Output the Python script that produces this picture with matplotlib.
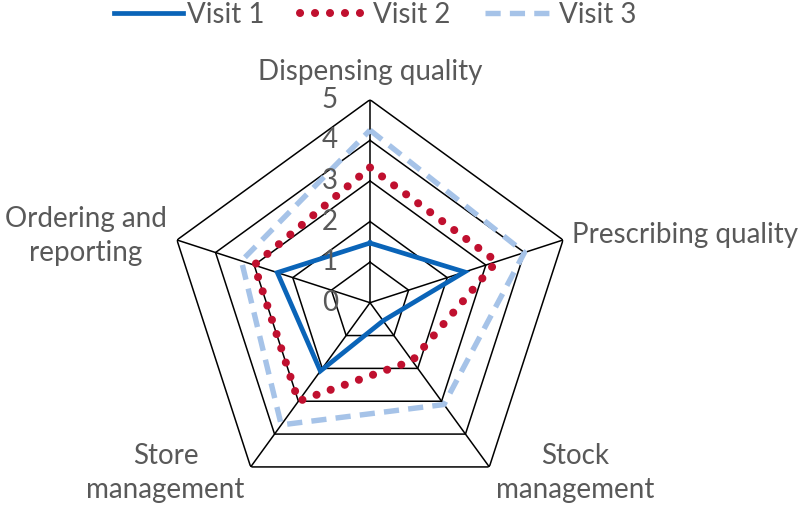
import numpy as np
import matplotlib
matplotlib.use("Agg")
import matplotlib.pyplot as plt

categories = ["Dispensing quality", "Prescribing quality", "Stock\nmanagement",
              "Store\nmanagement", "Ordering and\nreporting"]
visit1 = [1.47, 2.45, 0.55, 2.08, 2.40]
visit2 = [3.33, 3.28, 1.77, 3.00, 3.00]
visit3 = [4.25, 4.00, 3.10, 3.72, 3.33]
series_names = ["Visit 1", "Visit 2", "Visit 3"]
ring_levels = [0, 1, 2, 3, 4, 5]

plt.rcParams['font.family'] = ['Lato', 'DejaVu Sans']
TXT = '#595959'
FS = 20

W, H = 800, 507
fig = plt.figure(figsize=(W / 100, H / 100), dpi=100)
cx, cy, R = 370, 507 - 302.7, 203
ax = fig.add_axes([(cx - R) / W, (cy - R) / H, 2 * R / W, 2 * R / H], projection='polar')
ax.set_theta_offset(np.pi / 2)
ax.set_theta_direction(-1)
ax.set_ylim(0, 5)
ax.set_axis_off()

n = len(categories)
angles = np.linspace(0, 2 * np.pi, n, endpoint=False)
closed = np.concatenate([angles, angles[:1]])

# grid pentagons and spokes
for r in ring_levels[1:]:
    ax.plot(closed, [r] * (n + 1), color='black', lw=1.1, zorder=1)
for a in angles:
    ax.plot([a, a], [0, 5], color='black', lw=1.1, zorder=1)

def close(v):
    return list(v) + [v[0]]

l1, = ax.plot(closed, close(visit1), color='#0A64B8', lw=3.4, solid_joinstyle='miter',
              label=series_names[0], zorder=3)
l2, = ax.plot(closed, close(visit2), color='#C0102F', lw=5.8, linestyle=(0, (0.01, 1.85)),
              dash_capstyle='round', label=series_names[1], zorder=3)
l3, = ax.plot(closed, close(visit3), color='#A6C3E8', lw=3.9, linestyle=(0, (2.8, 1.7)),
              label=series_names[2], zorder=2)

# ring labels
for r in ring_levels:
    ax.annotate(str(r), xy=(0, r), xytext=(-32, 0), textcoords='offset pixels',
                ha='right', va='center', fontsize=FS, color=TXT)

# category labels
offsets = [((0, 28), 'center'), ((9, 5), 'left'), ((86, -6), 'center'),
           ((-85, -6), 'center'), ((-10, 4), 'right')]
for a, lab, (off, ha) in zip(angles, categories, offsets):
    ax.annotate(lab, xy=(a, 5), xytext=off, textcoords='offset pixels',
                ha=ha, va='center', multialignment='center', fontsize=FS,
                color=TXT, linespacing=1.38)

fig.legend(handles=[l1, l2, l3], loc='center', bbox_to_anchor=(375 / W, 1 - 15 / H),
           ncol=3, frameon=False, fontsize=FS, labelcolor=TXT, handlelength=2.5,
           handletextpad=0.15, columnspacing=1.25, borderpad=0, borderaxespad=0)

fig.savefig('out.png', dpi=100)
